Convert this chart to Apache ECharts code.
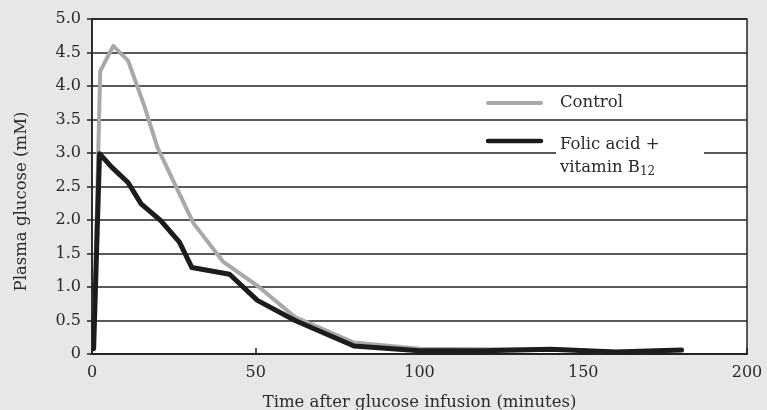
<!DOCTYPE html>
<html>
<head>
<meta charset="utf-8">
<script src="https://cdn.jsdelivr.net/npm/echarts@6/dist/echarts.min.js"></script>
<style>
html,body{margin:0;padding:0;background:#e6e7e9;}
#chart{width:767px;height:410px;}
</style>
</head>
<body>
<div id="chart"></div>
<script>
var seriesNames = ['Control', 'Folic acid + vitamin B12'];
var xTicks = [0, 50, 100, 150, 200];
var yTicks = [0, 0.5, 1.0, 1.5, 2.0, 2.5, 3.0, 3.5, 4.0, 4.5, 5.0];
var controlTime = [0.5, 2.5, 6.5, 11, 16, 20, 31, 40, 51, 62, 80, 100, 120, 140, 160, 180];
var controlValues = [0.1, 4.22, 4.6, 4.38, 3.7, 3.08, 1.95, 1.38, 1.0, 0.55, 0.17, 0.08, 0.07, 0.07, 0.03, 0.06];
var folicTime = [0.5, 2.3, 6, 11, 15, 21, 26.7, 30.5, 42, 50.5, 62, 80, 100, 120, 140, 160, 180];
var folicValues = [0.08, 2.99, 2.79, 2.56, 2.24, 1.99, 1.67, 1.29, 1.19, 0.8, 0.5, 0.12, 0.05, 0.05, 0.07, 0.03, 0.06];

function pairs(t, v) { return t.map(function (x, i) { return [x, v[i]]; }); }

var FONT = 'DejaVu Serif';
var TXT = '#2a2a2a';
var chart = echarts.init(document.getElementById('chart'));
chart.setOption({
  backgroundColor: '#e6e7e9',
  animation: false,
  textStyle: { fontFamily: FONT, color: TXT },
  grid: {
    left: 92, right: 20, top: 19, bottom: 56,
    containLabel: false, outerBoundsMode: 'none',
    show: true, backgroundColor: '#ffffff', borderColor: '#222', borderWidth: 1.5
  },
  xAxis: {
    type: 'value', min: 0, max: 200, interval: 50,
    name: 'Time after glucose infusion (minutes)',
    nameLocation: 'middle', nameGap: 40,
    nameTextStyle: { fontFamily: FONT, fontSize: 16.5, color: TXT },
    axisLine: { show: true, lineStyle: { color: '#222', width: 2 } },
    axisTick: { show: true, inside: true, length: 6, lineStyle: { color: '#222', width: 1.5 } },
    axisLabel: { margin: 11, fontFamily: FONT, fontSize: 16, color: TXT,
      formatter: function (v) { return xTicks.indexOf(v) >= 0 ? String(v) : ''; } },
    splitLine: { show: false }
  },
  yAxis: {
    type: 'value', min: 0, max: 5, interval: 0.5,
    name: 'Plasma glucose (mM)',
    nameLocation: 'middle', nameGap: 62,
    nameTextStyle: { fontFamily: FONT, fontSize: 16.5, color: TXT, padding: [0, 30, 0, 0] },
    axisLine: { show: true, lineStyle: { color: '#222', width: 1.5 } },
    axisTick: { show: true, inside: false, length: 5, lineStyle: { color: '#222', width: 1.5 } },
    axisLabel: { margin: 11, fontFamily: FONT, fontSize: 16, color: TXT,
      formatter: function (v) { return v === 0 ? '0' : v.toFixed(1); } },
    splitLine: { show: true, lineStyle: { color: '#222', width: 1.5 } }
  },
  graphic: [
    { type: 'rect', z: 50, shape: { x: 556, y: 136, width: 148, height: 44 }, style: { fill: '#ffffff' } },
    { type: 'line', z: 60, shape: { x1: 488, y1: 103, x2: 541, y2: 103 }, style: { stroke: '#a9a9a9', lineWidth: 4, lineCap: 'round' } },
    { type: 'line', z: 60, shape: { x1: 488, y1: 141, x2: 541, y2: 141 }, style: { stroke: '#1c1c1c', lineWidth: 4.5, lineCap: 'round' } },
    { type: 'text', z: 60, x: 560, y: 103, style: { text: 'Control', fontFamily: FONT, fontSize: 16.5, fill: TXT, verticalAlign: 'middle' } },
    { type: 'text', z: 60, x: 560, y: 145, style: { text: 'Folic acid +', fontFamily: FONT, fontSize: 16.5, fill: TXT, verticalAlign: 'middle' } },
    { type: 'text', z: 60, x: 560, y: 168, style: {
        text: 'vitamin B{sub|12}', fontFamily: FONT, fontSize: 16.5, fill: TXT, verticalAlign: 'middle',
        rich: { sub: { fontFamily: FONT, fontSize: 12, fill: TXT, padding: [8, 0, 0, 0] } } } }
  ],
  series: [
    { name: seriesNames[0], type: 'line', data: pairs(controlTime, controlValues), showSymbol: false,
      lineStyle: { color: '#a9a9a9', width: 4, join: 'round', cap: 'round' }, z: 3 },
    { name: seriesNames[1], type: 'line', data: pairs(folicTime, folicValues), showSymbol: false,
      lineStyle: { color: '#1c1c1c', width: 5, join: 'round', cap: 'round' }, z: 4 }
  ]
});
</script>
</body>
</html>
